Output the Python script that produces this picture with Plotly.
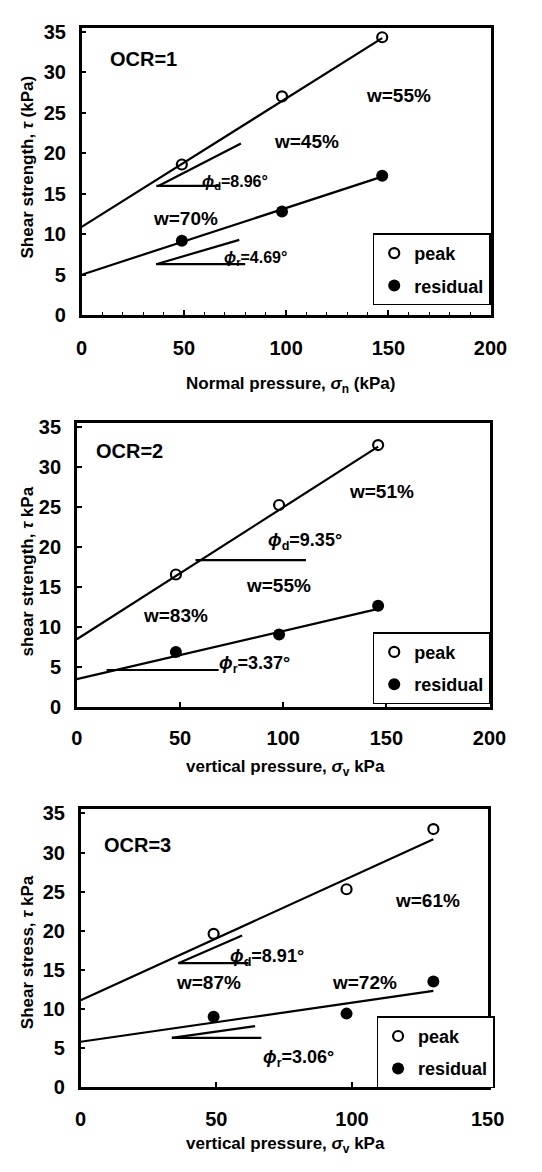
import math
import plotly.graph_objects as go

# ---------------- data ----------------
# OCR = 1
p1_x = [49, 98, 147]
p1_peak = [18.6, 27.0, 34.3]
p1_resid = [9.2, 12.8, 17.2]
p1_fit_x = [0, 147]
p1_fit_peak = [10.9, 34.2]
p1_fit_resid = [5.0, 17.1]

# OCR = 2
p2_x = [48, 98, 146]
p2_peak = [16.6, 25.3, 32.8]
p2_resid = [6.9, 9.1, 12.7]
p2_fit_x = [0, 146]
p2_fit_peak = [8.5, 32.6]
p2_fit_resid = [3.5, 12.3]

# OCR = 3
p3_x = [49, 98, 130]
p3_peak = [19.6, 25.3, 33.0]
p3_resid = [9.0, 9.4, 13.5]
p3_fit_x = [0, 130]
p3_fit_peak = [11.1, 31.7]
p3_fit_resid = [5.8, 12.3]

x_ticks_1 = [0, 50, 100, 150, 200]
x_ticks_2 = [0, 50, 100, 150, 200]
x_ticks_3 = [0, 50, 100, 150]
y_ticks = [0, 5, 10, 15, 20, 25, 30, 35]

FONT = "Liberation Sans"

fig = go.Figure()

panels = [
    dict(x=p1_x, peak=p1_peak, resid=p1_resid, fx=p1_fit_x, fp=p1_fit_peak, fr=p1_fit_resid,
         xa="x", ya="y", leg="legend"),
    dict(x=p2_x, peak=p2_peak, resid=p2_resid, fx=p2_fit_x, fp=p2_fit_peak, fr=p2_fit_resid,
         xa="x2", ya="y2", leg="legend2"),
    dict(x=p3_x, peak=p3_peak, resid=p3_resid, fx=p3_fit_x, fp=p3_fit_peak, fr=p3_fit_resid,
         xa="x3", ya="y3", leg="legend3"),
]

for p in panels:
    fig.add_trace(go.Scatter(x=p["fx"], y=p["fp"], mode="lines", line=dict(color="black", width=2.2),
                             xaxis=p["xa"], yaxis=p["ya"], showlegend=False, hoverinfo="skip"))
    fig.add_trace(go.Scatter(x=p["fx"], y=p["fr"], mode="lines", line=dict(color="black", width=2.2),
                             xaxis=p["xa"], yaxis=p["ya"], showlegend=False, hoverinfo="skip"))
    fig.add_trace(go.Scatter(x=p["x"], y=p["peak"], mode="markers", name="peak",
                             marker=dict(symbol="circle-open", size=10, color="black", line=dict(width=2.2)),
                             xaxis=p["xa"], yaxis=p["ya"], legend=p["leg"], legendgroup="a" + p["leg"]))
    fig.add_trace(go.Scatter(x=p["x"], y=p["resid"], mode="markers", name="residual",
                             marker=dict(symbol="circle", size=12, color="black"),
                             xaxis=p["xa"], yaxis=p["ya"], legend=p["leg"], legendgroup="b" + p["leg"]))

# ---------------- angle indicator segments (data coords) ----------------
indicator_segments = [
    ("x", "y", 36.5, 15.95, 67.8, 15.95),
    ("x", "y", 37.5, 15.95, 77.9, 21.2),
    ("x", "y", 36.5, 6.3, 80.0, 6.3),
    ("x", "y", 36.5, 6.3, 77.1, 9.3),
    ("x2", "y2", 57.5, 18.4, 111.0, 18.4),
    ("x2", "y2", 14.4, 4.65, 68.7, 4.65),
    ("x3", "y3", 36.0, 15.85, 61.9, 15.85),
    ("x3", "y3", 36.0, 15.85, 59.5, 19.4),
    ("x3", "y3", 33.6, 6.3, 66.6, 6.3),
    ("x3", "y3", 33.6, 6.3, 64.3, 7.8),
]
for xr, yr, x0, y0, x1, y1 in indicator_segments:
    fig.add_shape(type="line", xref=xr, yref=yr, x0=x0, y0=y0, x1=x1, y1=y1,
                  line=dict(color="black", width=2.2))

# ---------------- in-plot labels ----------------
labels = [
    ("x", "y", 13, 31.6, "OCR=1", 20, "left"),
    ("x", "y", 155, 27.1, "w=55%", 19, "center"),
    ("x", "y", 110, 21.4, "w=45%", 19, "center"),
    ("x", "y", 51, 11.9, "w=70%", 19, "center"),
    ("x", "y", 58, 16.4, "<i>ϕ</i><sub>d</sub>=8.96°", 16, "left"),
    ("x", "y", 68.5, 7.0, "<i>ϕ</i><sub>r</sub>=4.69°", 16, "left"),
    ("x2", "y2", 8.4, 32.0, "OCR=2", 20, "left"),
    ("x2", "y2", 147.6, 27.0, "w=51%", 19, "center"),
    ("x2", "y2", 97.9, 15.2, "w=55%", 19, "center"),
    ("x2", "y2", 47.8, 11.5, "w=83%", 19, "center"),
    ("x2", "y2", 91.9, 20.7, "<i>ϕ</i><sub>d</sub>=9.35°", 18, "left"),
    ("x2", "y2", 67.7, 5.3, "<i>ϕ</i><sub>r</sub>=3.37°", 18, "left"),
    ("x3", "y3", 7.8, 31.0, "OCR=3", 20, "left"),
    ("x3", "y3", 128, 23.9, "w=61%", 19, "center"),
    ("x3", "y3", 47.1, 13.4, "w=87%", 19, "center"),
    ("x3", "y3", 104.5, 13.4, "w=72%", 19, "center"),
    ("x3", "y3", 54.2, 16.6, "<i>ϕ</i><sub>d</sub>=8.91°", 18, "left"),
    ("x3", "y3", 66.6, 3.6, "<i>ϕ</i><sub>r</sub>=3.06°", 18, "left"),
]
for xr, yr, x, y, t, s, anc in labels:
    fig.add_annotation(xref=xr, yref=yr, x=x, y=y, text="<b>" + t + "</b>", showarrow=False,
                       font=dict(family=FONT, size=s, color="black"), xanchor=anc, yanchor="middle")

# ---------------- axis titles ----------------
axis_titles = [
    (0.549, 0.6725, "Normal pressure, <i>σ</i><sub>n</sub> (kPa)", 0),
    (0.539, 0.3404, "vertical pressure, <i>σ</i><sub>v</sub> kPa", 0),
    (0.539, 0.0140, "vertical pressure, <i>σ</i><sub>v</sub> kPa", 0),
    (0.0406, 0.861, "Shear strength, <i>τ</i> (kPa)", -90),
    (0.0406, 0.511, "shear strength, <i>τ</i> kPa", -90),
    (0.0406, 0.181, "Shear stress, <i>τ</i> kPa", -90),
]
for x, y, t, ang in axis_titles:
    fig.add_annotation(xref="paper", yref="paper", x=x, y=y, text="<b>" + t + "</b>", showarrow=False,
                       textangle=ang, font=dict(family=FONT, size=17, color="black"),
                       xanchor="center", yanchor="middle")

tickfont = dict(family=FONT, size=20, color="black", weight="bold")

def xax(domain, rng, ticks, anchor, standoff, minor=False):
    d = dict(domain=domain, range=rng, tickvals=ticks, anchor=anchor, showline=True, mirror=True,
             linecolor="black", linewidth=2.5, ticks="inside", ticklen=5, tickwidth=1.5, tickcolor="black",
             showgrid=False, zeroline=False, tickfont=tickfont, ticklabelstandoff=standoff, fixedrange=True)
    if minor:
        d["minor"] = dict(dtick=10, ticks="inside", ticklen=3, tickcolor="black", tickwidth=1)
    return d

def yax(domain, anchor):
    return dict(domain=domain, range=[0, 35.5], tickvals=y_ticks, anchor=anchor, showline=True, mirror=True,
                linecolor="black", linewidth=2.5, ticks="inside", ticklen=5, tickwidth=1.5, tickcolor="black",
                showgrid=False, zeroline=False, tickfont=tickfont, ticklabelstandoff=9, fixedrange=True)

legend_style = dict(bgcolor="white", bordercolor="black", borderwidth=1.5,
                    font=dict(family=FONT, size=18, color="black", weight="bold"),
                    xanchor="left", yanchor="top", traceorder="grouped", tracegroupgap=6,
                    itemwidth=30)

fig.update_layout(
    width=542, height=1172, margin=dict(l=0, r=0, t=0, b=0),
    paper_bgcolor="white", plot_bgcolor="white",
    xaxis=xax([0.1458, 0.9336], [0, 200], x_ticks_1, "y", 13, minor=True),
    yaxis=yax([0.7329, 0.9822], "x"),
    xaxis2=xax([0.1365, 0.9317], [0, 200], x_ticks_2, "y2", 11),
    yaxis2=yax([0.3933, 0.6391], "x2"),
    xaxis3=xax([0.1439, 0.9280], [0, 150], x_ticks_3, "y3", 12),
    yaxis3=yax([0.0640, 0.3046], "x3"),
    legend=dict(x=0.7066, y=0.8038, **legend_style),
    legend2=dict(x=0.7066, y=0.4582, **legend_style),
    legend3=dict(x=0.714, y=0.1254, **legend_style),
    showlegend=True,
)

fig.write_html("out.html")
